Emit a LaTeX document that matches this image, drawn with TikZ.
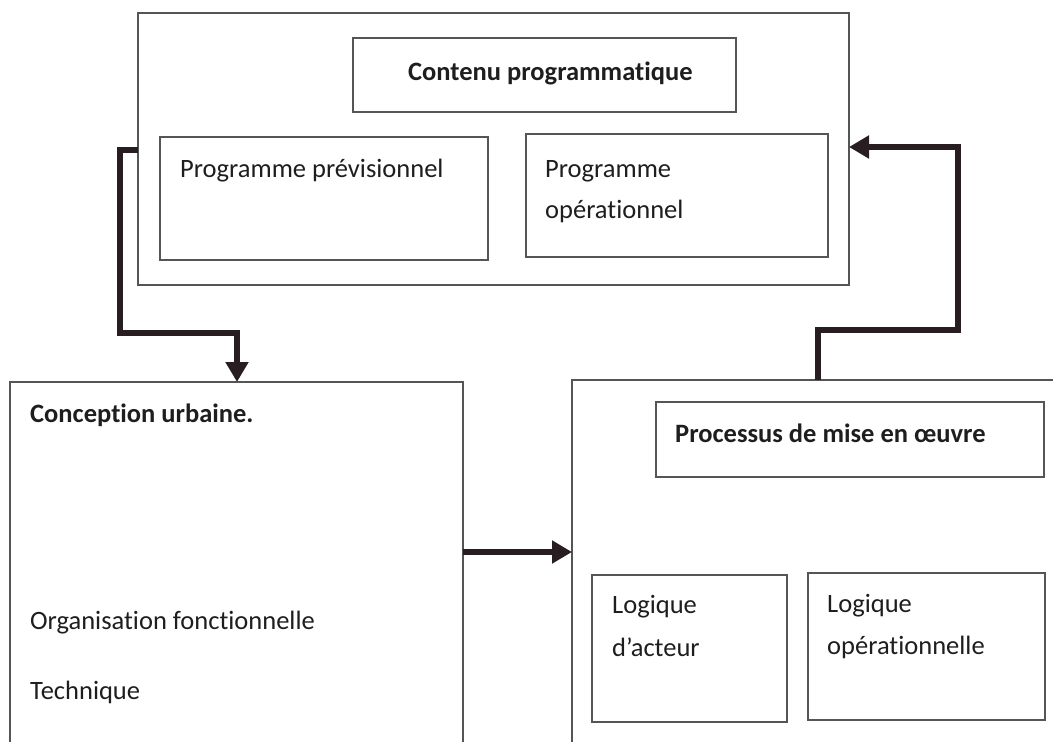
\documentclass[tikz,border=0pt]{standalone}
\usepackage{fontspec}
\setmainfont{Carlito}[Ligatures={NoCommon}]
\usetikzlibrary{arrows.meta}
\definecolor{boxc}{RGB}{85,85,85}
\definecolor{arrc}{RGB}{40,30,34}
\definecolor{txtc}{RGB}{30,30,30}
\tikzset{
  box/.style={draw=boxc, line width=1.3pt, inner sep=0pt, outer sep=0pt, anchor=north west},
  lbl/.style={anchor=base west, inner sep=0pt, text=txtc, font=\fontsize{26.5}{42}\selectfont},
  blbl/.style={lbl, font=\fontsize{26.5}{42}\selectfont\bfseries},
  flow/.style={draw=arrc, line width=6.5pt, line join=miter, -{Triangle[length=20pt,width=22pt]}}
}
\begin{document}
\begin{tikzpicture}[x=1pt,y=-1pt]
\useasboundingbox (0,0) rectangle (1053,742);
\fill[white] (0,0) rectangle (1053,742);
\clip (0,0) rectangle (1053,742);
% boxes
\node[box, minimum width=711pt, minimum height=272pt] (topbox) at (138,13) {};
\node[box, minimum width=383pt, minimum height=74pt] (contenu) at (353,38) {};
\node[box, minimum width=328pt, minimum height=123pt] (prev) at (160,137) {};
\node[box, minimum width=302pt, minimum height=123pt] (oper) at (526,134) {};
\node[box, minimum width=453pt, minimum height=500pt] (conc) at (10,382) {};
\node[box, minimum width=600pt, minimum height=500pt] (impl) at (572,380) {};
\node[box, minimum width=388pt, minimum height=75pt] (proc) at (656,402) {};
\node[box, minimum width=195pt, minimum height=147pt] (acteur) at (592,575) {};
\node[box, minimum width=237pt, minimum height=147pt] (lopera) at (808,573) {};
% texts
\node[blbl] (t1) at (408,80) {Contenu programmatique};
\node[lbl] (t2) at (180,177) {Programme prévisionnel};
\node[lbl] (t3) at (545,177) {Programme};
\node[lbl] (t4) at (545,218) {opérationnel};
\node[blbl] (t5) at (30,422) {Conception urbaine.};
\node[lbl] (t6) at (30,629) {Organisation fonctionnelle};
\node[lbl] (t7) at (30,699) {Technique};
\node[blbl] (t8) at (675,442) {Processus de mise en œuvre};
\node[lbl] (t9) at (612,613) {Logique};
\node[lbl] (t10) at (612,656) {d’acteur};
\node[lbl] (t11) at (827,612) {Logique};
\node[lbl] (t12) at (827,654) {opérationnelle};
% connectors
\coordinate (l1) at (120,150);
\coordinate (l2) at (120,333);
\coordinate (l3) at (237,333);
\draw[flow] (l1 -| topbox.west) -- (l1) -- (l2) -- (l3) -- (l3 |- conc.north);
\coordinate (m) at (500,552);
\draw[flow] (m -| conc.east) -- (m -| impl.west);
\coordinate (r1) at (818,330);
\coordinate (r2) at (958,330);
\coordinate (r3) at (958,147);
\draw[flow] (r1 |- impl.north) -- (r1) -- (r2) -- (r3) -- (r3 -| topbox.east);
\end{tikzpicture}
\end{document}
